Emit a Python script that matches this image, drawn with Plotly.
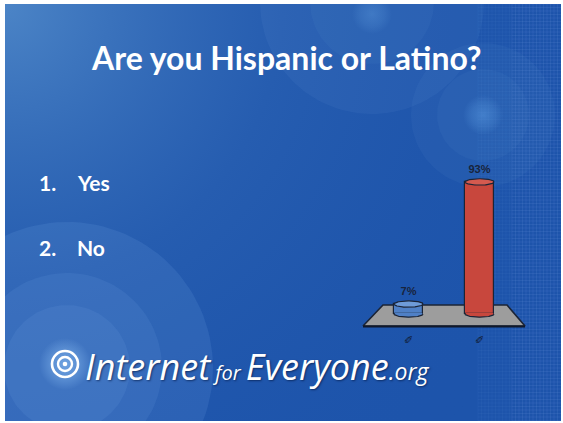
import numpy as np
import plotly.graph_objects as go

# ---- survey data -------------------------------------------------------
categories = ["Yes", "No"]
percent = [7, 93]
option_numbers = ["1.", "2."]
option_texts = ["Yes", "No"]
title_text = "Are you Hispanic or Latino?"

# ---- styling -----------------------------------------------------------
bar_colors = ["#4f80c6", "#c8473d"]
cap_colors = ["#6e9bd8", "#d45a4f"]
OUTLINE = "#1b2436"
FLOOR_FILL = "#9d9d9d"
LABEL_COLOR = "#18243c"

W, H = 563, 423
# slide area inside the thin white frame (pixel units, y downward)
SX0, SY0, SX1, SY1 = 5, 4, 561, 421

# bar-chart pixel anchors: first category centre, category spacing,
# baseline and vertical scale (px per percent)
CAT0_PX, CAT_STEP_PX = 408.5, 71.0
BASE_PX, PX_PER_PCT = 314.0, 1.42
BAR_W_PX, CAP_PX = 29.0, 3.2


def u_of(px):
    return (px - CAT0_PX) / CAT_STEP_PX


def v_of(py):
    return (BASE_PX - py) / PX_PER_PCT


def circle(cx, cy, r, n=120):
    t = np.linspace(0, 2 * np.pi, n)
    return list(cx + r * np.cos(t)), list(cy + r * np.sin(t))


positions = list(range(len(categories)))

fig = go.Figure()

# ---- slide background (pixel axes x / y) -----------------------------
rx = [SX0, SX1, SX1, SX0, SX0]
ry = [SY0, SY0, SY1, SY1, SY0]
fig.add_trace(go.Scatter(x=rx, y=ry, fill="toself", mode="lines",
                         line=dict(width=0), fillcolor="#1d54ab",
                         hoverinfo="skip", showlegend=False))

# soft light from the upper-left corner
gx, gy = circle(SX0, SY0, 620)
fig.add_trace(go.Scatter(
    x=gx, y=gy, fill="toself", mode="lines", line=dict(width=0),
    fillgradient=dict(type="radial", colorscale=[
        [0.0, "rgba(78,135,200,0.95)"],
        [0.45, "rgba(45,100,180,0.55)"],
        [1.0, "rgba(28,82,170,0.0)"]]),
    hoverinfo="skip", showlegend=False))


def ring(cx, cy, r, alpha):
    x, y = circle(cx, cy, r)
    fig.add_trace(go.Scatter(x=x, y=y, fill="toself", mode="lines",
                             line=dict(width=0),
                             fillcolor=f"rgba(140,190,245,{alpha})",
                             hoverinfo="skip", showlegend=False))


def glow(cx, cy, r, color, alpha):
    x, y = circle(cx, cy, r)
    fig.add_trace(go.Scatter(
        x=x, y=y, fill="toself", mode="lines", line=dict(width=0),
        fillgradient=dict(type="radial", colorscale=[
            [0.0, f"rgba({color},{alpha})"],
            [0.6, f"rgba({color},{alpha * 0.5})"],
            [1.0, f"rgba({color},0)"]]),
        hoverinfo="skip", showlegend=False))


# concentric circles, bottom-left
ring(67, 368, 146, 0.12)
ring(67, 368, 95, 0.10)
ring(67, 368, 63, 0.10)
# concentric circles, top
ring(372, 2, 112, 0.07)
ring(372, 2, 62, 0.05)
glow(372, 14, 20, "120,185,245", 0.25)
# concentric circles, right
ring(483, 115, 72, 0.06)
ring(483, 115, 46, 0.05)
glow(483, 115, 20, "110,180,245", 0.35)


# fine woven texture along the right edge
def grid(x0, x1, step, alpha):
    xs, ys = [], []
    for x in np.arange(x0, x1, step):
        xs += [x, x, None]
        ys += [SY0, SY1, None]
    for y in np.arange(SY0, SY1, step):
        xs += [x0, x1, None]
        ys += [y, y, None]
    fig.add_trace(go.Scatter(x=xs, y=ys, mode="lines",
                             line=dict(width=1, color=f"rgba(120,165,235,{alpha})"),
                             hoverinfo="skip", showlegend=False))


grid(478, 512, 3.5, 0.06)
grid(512, SX1, 3.5, 0.13)

# glow behind the logo mark
glow(65, 364, 26, "150,200,250", 0.55)

# ---- 3-D style bar chart ------------------------------------------------
# floor plate lives on x2/y2, the cylinders on x3/y3 (drawn above it)
floor_px = [(363, 326), (525, 326), (507, 305), (383, 305), (363, 326)]
fig.add_trace(go.Scatter(
    x=[u_of(p[0]) for p in floor_px], y=[v_of(p[1]) for p in floor_px],
    xaxis="x2", yaxis="y2", fill="toself", mode="lines",
    fillcolor=FLOOR_FILL, line=dict(color=OUTLINE, width=1.6),
    hoverinfo="skip", showlegend=False))
# darker front edge of the plate
fig.add_trace(go.Scatter(
    x=[u_of(363), u_of(525)], y=[v_of(326.5), v_of(326.5)],
    xaxis="x2", yaxis="y2", mode="lines",
    line=dict(color="#10182a", width=2.2),
    hoverinfo="skip", showlegend=False))

hw = BAR_W_PX / 2 / CAT_STEP_PX
cap_v = CAP_PX / PX_PER_PCT
px_u = 1 / CAT_STEP_PX
px_v = 1 / PX_PER_PCT

# cylinder bodies
fig.add_trace(go.Bar(
    x=positions, y=percent, xaxis="x3", yaxis="y3",
    width=BAR_W_PX / CAT_STEP_PX, hovertext=categories,
    marker=dict(color=bar_colors, line=dict(color=OUTLINE, width=1.2)),
    hoverinfo="text+y", showlegend=False))

t = np.linspace(0, np.pi, 60)
for i, val, col, ccol in zip(positions, percent, bar_colors, cap_colors):
    # rounded bottom of the cylinder
    inner = hw - 0.7 * px_u
    bx = list(i + inner * np.cos(t)) + [i - inner, i + inner, i + inner]
    by = list(-cap_v * np.sin(t)) + [1.0 * px_v, 1.0 * px_v, 0]
    fig.add_trace(go.Scatter(x=bx, y=by, xaxis="x3", yaxis="y3",
                             fill="toself", mode="lines", fillcolor=col,
                             line=dict(width=0), hoverinfo="skip",
                             showlegend=False))
    fig.add_trace(go.Scatter(x=list(i + hw * np.cos(t)),
                             y=list(-cap_v * np.sin(t)),
                             xaxis="x3", yaxis="y3", mode="lines",
                             line=dict(color=OUTLINE, width=1.2),
                             hoverinfo="skip", showlegend=False))
    # top cap
    tt = np.linspace(0, 2 * np.pi, 120)
    fig.add_trace(go.Scatter(x=list(i + hw * np.cos(tt)),
                             y=list(val + cap_v * np.sin(tt)),
                             xaxis="x3", yaxis="y3", fill="toself",
                             mode="lines", fillcolor=ccol,
                             line=dict(color=OUTLINE, width=1.2),
                             hoverinfo="skip", showlegend=False))

# value labels
fig.add_trace(go.Scatter(
    x=positions, y=[v + 12 * px_v for v in percent], xaxis="x3", yaxis="y3",
    mode="text", text=[f"{v}%" for v in percent],
    textfont=dict(family="Liberation Sans, Arial", size=11, color=LABEL_COLOR,
                  weight="bold"),
    hoverinfo="skip", showlegend=False))

annotations = []
# small category tick marks below the floor
for i in positions:
    annotations.append(dict(
        x=i, y=-26 * px_v, xref="x3", yref="y3", text="\u2710",
        showarrow=False, font=dict(family="DejaVu Sans", size=11,
                                   color="#101a30")))

# ---- slide text --------------------------------------------------------
annotations.append(dict(
    x=286, y=57, xref="x", yref="y", text=title_text,
    showarrow=False, xanchor="center", yanchor="middle",
    font=dict(family="Lato", size=32, color="white", weight="bold")))

for k, (num, txt) in enumerate(zip(option_numbers, option_texts)):
    yy = 182 + 65 * k
    annotations.append(dict(x=37, y=yy, xref="x", yref="y", text=num,
                            showarrow=False, xanchor="left", yanchor="middle",
                            font=dict(family="Lato", size=21, color="white",
                                      weight="bold")))
    annotations.append(dict(x=75, y=yy, xref="x", yref="y", text=txt,
                            showarrow=False, xanchor="left", yanchor="middle",
                            font=dict(family="Lato", size=21, color="white",
                                      weight="bold")))

annotations.append(dict(
    x=83, y=366, xref="x", yref="y",
    text=("<i>Internet<span style='font-size:20px'> for </span>Everyone"
          "<span style='font-size:23px'>.org</span></i>"),
    showarrow=False, xanchor="left", yanchor="middle",
    font=dict(family="Open Sans", size=36, color="white",
              shadow="1px 1px 2px rgba(0,20,60,0.6)")))

# logo mark: concentric rings
shapes = []
for r, w in [(13, 2.6), (7, 2.4)]:
    shapes.append(dict(type="circle", xref="x", yref="y",
                       x0=65 - r, x1=65 + r, y0=364 - r, y1=364 + r,
                       line=dict(color="white", width=w)))
shapes.append(dict(type="circle", xref="x", yref="y",
                   x0=65 - 2.3, x1=65 + 2.3, y0=364 - 2.3, y1=364 + 2.3,
                   line=dict(width=0), fillcolor="white"))

chart_x = dict(range=[u_of(SX0), u_of(SX1)], visible=False, fixedrange=True,
               tickvals=positions, ticktext=categories)
chart_y = dict(range=[v_of(SY1), v_of(SY0)], visible=False, fixedrange=True)

fig.update_layout(
    width=W, height=H, margin=dict(l=0, r=0, t=0, b=0),
    paper_bgcolor="white", plot_bgcolor="rgba(0,0,0,0)",
    showlegend=False, annotations=annotations, shapes=shapes,
    xaxis=dict(range=[SX0, SX1], domain=[SX0 / W, SX1 / W], visible=False,
               fixedrange=True),
    yaxis=dict(range=[SY1, SY0], domain=[1 - SY1 / H, 1 - SY0 / H],
               visible=False, fixedrange=True),
    xaxis2=dict(overlaying="x", anchor="y2", **chart_x),
    yaxis2=dict(overlaying="y", anchor="x2", **chart_y),
    xaxis3=dict(overlaying="x", anchor="y3", **chart_x),
    yaxis3=dict(overlaying="y", anchor="x3", **chart_y),
    bargap=0,
)

fig.write_html("out.html")
